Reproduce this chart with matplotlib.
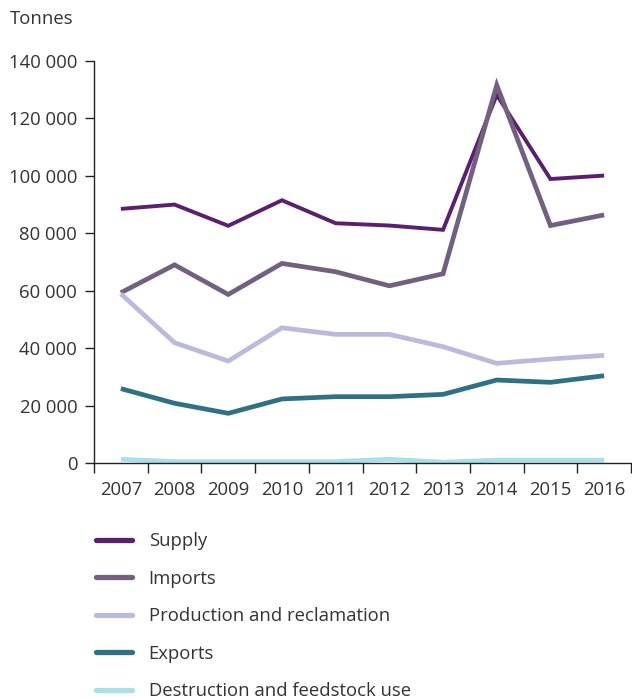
import matplotlib
matplotlib.use("Agg")
import matplotlib.pyplot as plt
from matplotlib.ticker import FuncFormatter, FixedLocator

plt.rcParams['font.family'] = ['Open Sans', 'DejaVu Sans']

years = ["2007", "2008", "2009", "2010", "2011", "2012", "2013", "2014", "2015", "2016"]
supply = [88500, 90000, 82600, 91500, 83500, 82700, 81200, 128200, 98900, 100100]
imports = [59300, 69000, 58700, 69500, 66600, 61700, 65900, 131600, 82700, 86400]
production = [58900, 41900, 35500, 47100, 44800, 44800, 40500, 34700, 36200, 37500]
exports = [25900, 20800, 17300, 22300, 23100, 23100, 23900, 28900, 28100, 30400]
destruction = [1300, 500, 500, 500, 500, 1300, 300, 1000, 1000, 1000]

series = [
    ("Supply", supply, "#5a1f70", 2.8),
    ("Imports", imports, "#735f80", 3.4),
    ("Production and reclamation", production, "#bcb9de", 3.4),
    ("Exports", exports, "#2f7084", 3.4),
    ("Destruction and feedstock use", destruction, "#a9dfe8", 3.4),
]

FS = 13.3
W, H = 632, 698
fig = plt.figure(figsize=(W / 100, H / 100), dpi=100)
ax = fig.add_axes([94 / W, 1 - 463 / H, (631 - 94) / W, (463 - 61) / H])

x = list(range(len(years)))
for name, vals, color, lw in series:
    ax.plot(x, vals, color=color, lw=lw, label=name, solid_capstyle="butt",
            solid_joinstyle="miter")

ax.set_xlim(-0.5, len(years) - 0.5)
ax.set_ylim(0, 140000)
ax.set_yticks(range(0, 140001, 20000))
ax.yaxis.set_major_formatter(FuncFormatter(lambda v, p: f"{int(v):,}".replace(",", " ")))

ax.set_xticks(x)
ax.set_xticklabels(years)
ax.xaxis.set_minor_locator(FixedLocator([i - 0.5 for i in range(len(years) + 1)]))
ax.tick_params(axis="x", which="major", length=0, pad=13)
ax.tick_params(axis="x", which="minor", length=7, width=1, color="#222222")
ax.tick_params(axis="y", length=6.5, width=1, color="#222222", pad=5.5)
ax.tick_params(labelsize=FS, labelcolor="#333333")

for s in ["top", "right"]:
    ax.spines[s].set_visible(False)
for s in ["left", "bottom"]:
    ax.spines[s].set_color("#222222")
    ax.spines[s].set_linewidth(1)

fig.text(10 / W, 1 - 19 / H, "Tonnes", fontsize=FS, color="#333333", va="center", ha="left")

leg = fig.legend(loc="upper left", bbox_to_anchor=(96 / W, 1 - 532 / H), frameon=False,
                 fontsize=FS, handlelength=1.95, handletextpad=0.9, labelspacing=1.06,
                 borderaxespad=0, borderpad=0)
for t in leg.get_texts():
    t.set_color("#333333")
for l in leg.get_lines():
    l.set_linewidth(3.8)
    l.set_solid_capstyle("round")

fig.savefig("out.png", dpi=100)
